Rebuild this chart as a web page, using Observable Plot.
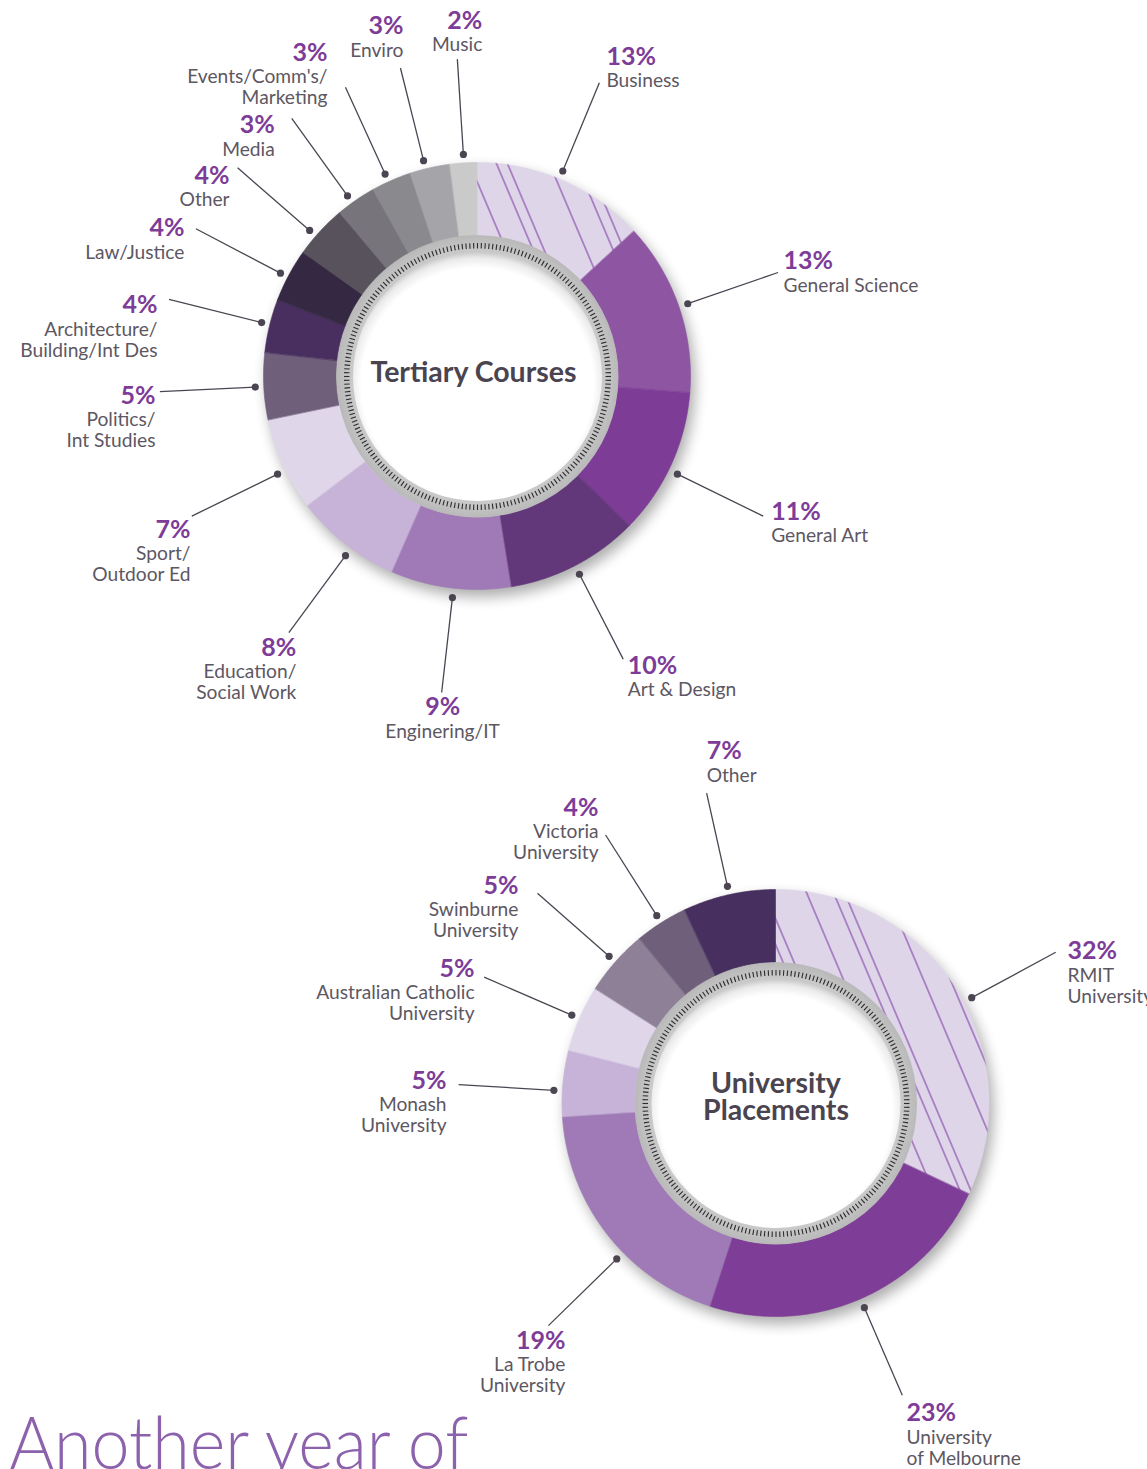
<!DOCTYPE html>
<html>
<head>
<meta charset="utf-8">
<script src="https://cdn.jsdelivr.net/npm/d3@7"></script>
<script src="https://cdn.jsdelivr.net/npm/@observablehq/plot@0.6"></script>
<style>
  html, body { margin: 0; padding: 0; background: #fff; overflow: hidden; }
  #chart { position: relative; width: 1147px; height: 1469px; overflow: hidden; }
  #chart svg { display: block; }
</style>
</head>
<body>
<div id="chart"></div>
<script>
// ---------------- DATA ----------------
const courseNames = [
  "Business", "General Science", "General Art", "Art & Design", "Enginering/IT",
  "Education/\nSocial Work", "Sport/\nOutdoor Ed", "Politics/\nInt Studies",
  "Architecture/\nBuilding/Int Des", "Law/Justice", "Other", "Media",
  "Events/Comm's/\nMarketing", "Enviro", "Music"
];
const courseValues = [13, 13, 11, 10, 9, 8, 7, 5, 4, 4, 4, 3, 3, 3, 2];

const uniNames = [
  "RMIT\nUniversity", "University\nof Melbourne", "La Trobe\nUniversity",
  "Monash\nUniversity", "Australian Catholic\nUniversity", "Swinburne\nUniversity",
  "Victoria\nUniversity", "Other"
];
const uniValues = [32, 23, 19, 5, 5, 5, 4, 7];

const courseTitle = "Tertiary Courses";
const uniTitle = ["University", "Placements"];
const headline = "Another year of";

// ---------------- STYLES ----------------
const courseColors = [
  "url(#hatchTop)", "#8e55a3", "#7d3c96", "#63387a", "#a07ab6", "#c8b3d8", "#e0d6ea",
  "#6f5f7b", "#482f5f", "#342843", "#57525c", "#77747b", "#8a898e", "#a5a4a8", "#cacaca"
];
const uniColors = [
  "url(#hatchBottom)", "#7e3d96", "#a07ab6", "#c8b3d8", "#e0d6ea", "#8e8097", "#6f5f7b", "#47305f"
];

// ---------------- LAYOUT ----------------
const W = 1147, H = 1469;
const topCenter = {cx: 477, cy: 376};
const botCenter = {cx: 775.5, cy: 1103};
const R = {outer: 213.5, inner: 141, disc: 124.5, tickIn: 128, tickOut: 133.5, dot: 222.5, end: 318};

// label placement relative to the leader line end: anchor, dx, dy (pct baseline), da (deg tweak), gap
const courseLabelLayout = [
  {anchor: "start", dx: 7, dy: -18, da: -1.1},
  {anchor: "start", dx: 5.5, dy: -3},
  {anchor: "start", dx: 8, dy: 3.5, da: 1.5},
  {anchor: "start", dx: 4.5, dy: 14.5},
  {anchor: "middle", dx: 1, dy: 23, da: -0.8},
  {anchor: "end", dx: 7.5, dy: 23, da: -1.8},
  {anchor: "end", dx: -1.3, dy: 21.4, da: -1.5},
  {anchor: "end", dx: -4.4, dy: 12},
  {anchor: "end", dx: -11.5, dy: 14, da: 0.4},
  {anchor: "end", dx: -11.4, dy: 7.7, da: -0.5},
  {anchor: "end", dx: -8, dy: 15.8, da: -1.7},
  {anchor: "end", dx: -17, dy: 15, da: -1.2},
  {anchor: "end", dx: -18, dy: -26, da: -0.9, gap: 22, lead: 21},
  {anchor: "end", dx: 3, dy: -33.5, da: -1.3},
  {anchor: "end", dx: 25, dy: -30.6}
];
const uniLabelLayout = [
  {anchor: "start", dx: 11.8, dy: 7, da: 4},
  {anchor: "start", dx: 4.2, dy: 26},
  {anchor: "end", dx: 17, dy: 23, da: -6.5},
  {anchor: "end", dx: -12, dy: 4, da: -2},
  {anchor: "end", dx: -9.6, dy: -0.7},
  {anchor: "end", dx: -19, dy: 0.3},
  {anchor: "end", dx: -7, dy: -19.5},
  {anchor: "start", dx: 0, dy: -33.7}
];

const FONT = "Lato, 'Open Sans', 'DejaVu Sans', sans-serif";
const PCT_SIZE = 25, NAME_SIZE = 19.2, NAME_GAP = 22.5, NAME_LEAD = 21.3;

// ---------------- GEOMETRY ----------------
function arcPoint(c, r, a) { return [c.cx + r * Math.sin(a), c.cy - r * Math.cos(a)]; }

function buildSlices(tag, names, values, colors, center) {
  const total = d3.sum(values);
  let acc = 0;
  return values.map((v, i) => {
    const a0 = acc / total * 2 * Math.PI; acc += v;
    const a1 = acc / total * 2 * Math.PI;
    return {tag, i, name: names[i], value: v, a0, a1, mid: (a0 + a1) / 2, fill: colors[i], center};
  });
}
function ringPoints(slices) {
  const pts = [];
  for (const s of slices) {
    const n = Math.max(2, Math.ceil((s.a1 - s.a0) / (Math.PI / 360)));
    for (let k = 0; k <= n; k++) {
      const a = s.a0 + (s.a1 - s.a0) * k / n;
      const [x1, y1] = arcPoint(s.center, R.outer, a);
      const [x2, y2] = arcPoint(s.center, R.inner, a);
      pts.push({key: s.tag + s.i, fill: s.fill, x1, y1, x2, y2});
    }
  }
  return pts;
}
function tickLines(center, count) {
  return d3.range(count).map(k => {
    const a = k / count * 2 * Math.PI;
    const [x1, y1] = arcPoint(center, R.tickIn, a);
    const [x2, y2] = arcPoint(center, R.tickOut, a);
    return {x1, y1, x2, y2};
  });
}
function leaderLines(slices, layout) {
  return slices.map((s, i) => {
    const L = layout[i];
    const a = s.mid + (L.da || 0) * Math.PI / 180;
    const [px, py] = arcPoint(s.center, R.dot, a);
    const [ex, ey] = arcPoint(s.center, R.end, a);
    return {px, py, ex, ey, s, L};
  });
}
function labelRows(leaders) {
  const rows = [];
  for (const {ex, ey, s, L} of leaders) {
    const x = ex + L.dx, y = ey + L.dy;
    const gap = L.gap || NAME_GAP, lead = L.lead || NAME_LEAD;
    rows.push({x, y, text: s.value + "%", kind: "pct", anchor: L.anchor});
    s.name.split("\n").forEach((line, j) => {
      rows.push({x, y: y + gap + lead * j, text: line, kind: "name", anchor: L.anchor});
    });
  }
  return rows;
}

const topSlices = buildSlices("t", courseNames, courseValues, courseColors, topCenter);
const botSlices = buildSlices("u", uniNames, uniValues, uniColors, botCenter);
const topLeaders = leaderLines(topSlices, courseLabelLayout);
const botLeaders = leaderLines(botSlices, uniLabelLayout);
const allLeaders = topLeaders.concat(botLeaders);
const rows = labelRows(allLeaders);
const centers = [topCenter, botCenter];
const ticks = tickLines(topCenter, 216).concat(tickLines(botCenter, 216));
const ring = ringPoints(topSlices.concat(botSlices));

const textMarks = [];
for (const anchor of ["start", "middle", "end"]) {
  textMarks.push(Plot.text(rows, {
    filter: d => d.kind === "pct" && d.anchor === anchor,
    x: "x", y: "y", text: "text", textAnchor: anchor, lineAnchor: "bottom",
    fill: "#7d3c98", fontSize: PCT_SIZE, fontWeight: 700, fontFamily: FONT
  }));
  textMarks.push(Plot.text(rows, {
    filter: d => d.kind === "name" && d.anchor === anchor,
    x: "x", y: "y", text: "text", textAnchor: anchor, lineAnchor: "bottom",
    fill: "#5d5763", fontSize: NAME_SIZE, fontWeight: 400, fontFamily: FONT
  }));
}

const titleRows = [
  {x: topCenter.cx - 4, y: topCenter.cy + 5, text: courseTitle},
  {x: botCenter.cx, y: botCenter.cy - 11, text: uniTitle[0]},
  {x: botCenter.cx, y: botCenter.cy + 16, text: uniTitle[1]}
];

const chart = Plot.plot({
  width: W, height: H,
  margin: 0,
  x: {domain: [0, W], range: [0, W], axis: null},
  y: {domain: [0, H], range: [0, H], axis: null},
  color: {type: "identity"},
  style: {background: "#fff", overflow: "hidden"},
  marks: [
    Plot.area(ring, {
      x1: "x1", y1: "y1", x2: "x2", y2: "y2", z: "key",
      fill: "fill", stroke: "fill", strokeWidth: 0.6
    }),
    Plot.dot(centers, {x: "cx", y: "cy", r: R.inner, fill: "url(#bandShade)", stroke: "none"}),
    Plot.link(ticks, {x1: "x1", y1: "y1", x2: "x2", y2: "y2", stroke: "#2c2c2c", strokeWidth: 1.1}),
    Plot.dot(centers, {x: "cx", y: "cy", r: R.disc, fill: "url(#innerShade)", stroke: "none"}),
    Plot.link(allLeaders, {x1: "px", y1: "py", x2: "ex", y2: "ey", stroke: "#4b4552", strokeWidth: 1.3}),
    Plot.dot(allLeaders, {x: "px", y: "py", r: 3.6, fill: "#4b4552", stroke: "none"}),
    ...textMarks,
    Plot.text(titleRows, {
      x: "x", y: "y", text: "text", textAnchor: "middle", lineAnchor: "bottom",
      fill: "#4a4450", fontSize: 28.5, fontWeight: 700, fontFamily: FONT
    }),
    Plot.text([headline], {
      x: () => 9, y: () => 1468, text: d => d, textAnchor: "start", lineAnchor: "bottom",
      fill: "#8c62ad", fontSize: 73, fontWeight: 300, fontFamily: FONT
    })
  ]
});

// defs inside the chart svg
const NS = "http://www.w3.org/2000/svg";
const defs = document.createElementNS(NS, "defs");
defs.innerHTML = `
  <pattern id="hatchTop" patternUnits="userSpaceOnUse" x="-10" y="0" width="80" height="40" patternTransform="skewX(23)">
    <rect x="0" y="0" width="80" height="40" fill="#dfd5e9"></rect>
    <line x1="10" y1="-2" x2="10" y2="42" stroke="#9e72bc" stroke-width="1.7"></line>
    <line x1="37" y1="-2" x2="37" y2="42" stroke="#9e72bc" stroke-width="1.7"></line>
    <line x1="48" y1="-2" x2="48" y2="42" stroke="#9e72bc" stroke-width="1.7"></line>
  </pattern>
  <pattern id="hatchBottom" patternUnits="userSpaceOnUse" x="17.6" y="0" width="80" height="40" patternTransform="skewX(23)">
    <rect x="0" y="0" width="80" height="40" fill="#dfd5e9"></rect>
    <line x1="10" y1="-2" x2="10" y2="42" stroke="#9e72bc" stroke-width="1.7"></line>
    <line x1="37" y1="-2" x2="37" y2="42" stroke="#9e72bc" stroke-width="1.7"></line>
    <line x1="48" y1="-2" x2="48" y2="42" stroke="#9e72bc" stroke-width="1.7"></line>
  </pattern>
  <filter id="ringShadow" filterUnits="userSpaceOnUse" x="0" y="0" width="${W}" height="${H}">
    <feGaussianBlur in="SourceAlpha" stdDeviation="7"></feGaussianBlur>
    <feOffset dx="4" dy="7" result="b"></feOffset>
    <feComponentTransfer><feFuncA type="linear" slope="0.33"></feFuncA></feComponentTransfer>
  </filter>
  <radialGradient id="innerShade" cx="50%" cy="53%" r="53%">
    <stop offset="0" stop-color="#ffffff"></stop>
    <stop offset="0.88" stop-color="#ffffff"></stop>
    <stop offset="0.955" stop-color="#ebebeb"></stop>
    <stop offset="1" stop-color="#c9c9c9"></stop>
  </radialGradient>
  <radialGradient id="bandShade" cx="50%" cy="50%" r="50%">
    <stop offset="0.85" stop-color="#cfcfcf"></stop>
    <stop offset="1" stop-color="#b9b9b9"></stop>
  </radialGradient>`;
chart.insertBefore(defs, chart.firstChild);

// soft drop shadow behind the rings: a filtered copy of the ring group
const ringG = chart.querySelector('g[aria-label="area"]');
if (ringG) {
  const shadow = ringG.cloneNode(true);
  shadow.setAttribute("aria-hidden", "true");
  shadow.removeAttribute("aria-label");
  shadow.setAttribute("filter", "url(#ringShadow)");
  ringG.parentNode.insertBefore(shadow, ringG);
}
// fit the headline width
for (const t of chart.querySelectorAll("text")) {
  if (t.textContent === headline) {
    t.setAttribute("textLength", "459");
    t.setAttribute("lengthAdjust", "spacingAndGlyphs");
  }
}
document.getElementById("chart").appendChild(chart);
</script>
</body>
</html>
